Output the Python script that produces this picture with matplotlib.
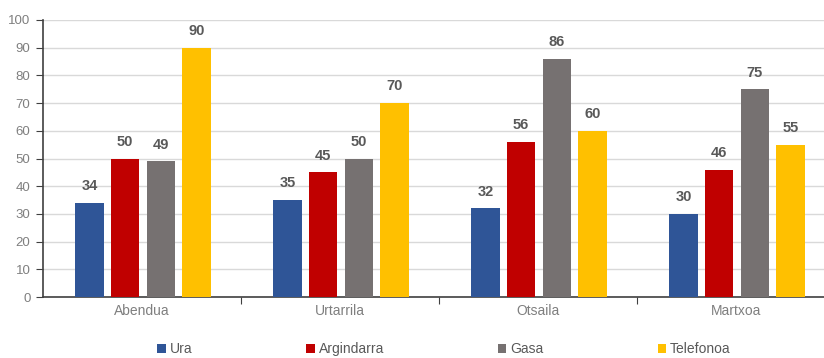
import matplotlib
matplotlib.use("Agg")
import matplotlib.pyplot as plt
import numpy as np

categories = ["Abendua", "Urtarrila", "Otsaila", "Martxoa"]
series_names = ["Ura", "Argindarra", "Gasa", "Telefonoa"]
ura = [34, 35, 32, 30]
argindarra = [50, 45, 56, 46]
gasa = [49, 50, 86, 75]
telefonoa = [90, 70, 60, 55]
colors = ["#2F5597", "#C00000", "#767171", "#FFC000"]
yticks = list(range(0, 101, 10))

plt.rcParams['font.family'] = ['Arial', 'Liberation Sans', 'DejaVu Sans']

fig = plt.figure(figsize=(8.24, 3.58), dpi=100)
ax = fig.add_axes([43/824, 1 - 297/358, 792/824, 277/358])

x = np.arange(len(categories))
step = 0.18
width = 0.143
all_series = [ura, argindarra, gasa, telefonoa]
for i, (name, vals, c) in enumerate(zip(series_names, all_series, colors)):
    pos = x + (i - 1.5) * step + 0.005
    ax.bar(pos, vals, width, color=c, label=name, zorder=3)
    for p, v in zip(pos, vals):
        ax.text(p, v + 3.5, str(v), ha='center', va='bottom', fontsize=10.5,
                fontweight='bold', color='#595959')

ax.set_xlim(-0.5, len(categories) - 0.5)
ax.set_ylim(0, 100)
ax.set_yticks(yticks)
ax.tick_params(axis='y', labelsize=9.5, labelcolor='#7F7F7F', length=5, direction='out',
               color='#404040', pad=4)
ax.yaxis.grid(True, color='#D9D9D9', linewidth=1.0, zorder=0)
ax.set_axisbelow(True)

ax.set_xticks(np.arange(0.5, len(categories) - 0.5 + 1, 1.0))
ax.set_xticklabels([])
ax.set_xticks(x, minor=True)
ax.set_xticklabels(categories, minor=True)
ax.tick_params(axis='x', which='minor', length=0, labelsize=10, labelcolor='#7F7F7F', pad=5)
ax.tick_params(axis='x', which='major', length=5, color='#404040')

for s in ['top', 'right']:
    ax.spines[s].set_visible(False)
for s in ['left', 'bottom']:
    ax.spines[s].set_color('#404040')
    ax.spines[s].set_linewidth(1.2)

leg = fig.legend(loc='center', bbox_to_anchor=(444/824, 9/358), ncol=4, frameon=False,
                 fontsize=10, handlelength=0.6, handleheight=0.6, handletextpad=0.3,
                 columnspacing=8.2, labelcolor='#595959')

fig.savefig("out.png", dpi=100)
